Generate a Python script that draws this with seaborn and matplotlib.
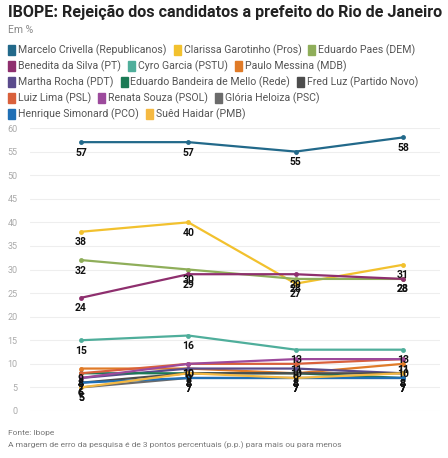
import pandas as pd
import numpy as np
import matplotlib.pyplot as plt
import seaborn as sns

# data (4 survey rounds, no labels on x axis)
rounds = [0, 1, 2, 3]
candidates = [
    'Marcelo Crivella (Republicanos)', 'Clarissa Garotinho (Pros)', 'Eduardo Paes (DEM)',
    'Benedita da Silva (PT)', 'Cyro Garcia (PSTU)', 'Paulo Messina (MDB)',
    'Martha Rocha (PDT)', 'Eduardo Bandeira de Mello (Rede)', 'Fred Luz (Partido Novo)',
    'Luiz Lima (PSL)', 'Renata Souza (PSOL)', 'Glória Heloiza (PSC)',
    'Henrique Simonard (PCO)', 'Suêd Haidar (PMB)',
]
crivella = [57, 57, 55, 58]
clarissa = [38, 40, 27, 31]
paes = [32, 30, 28, 28]
benedita = [24, 29, 29, 28]
cyro = [15, 16, 13, 13]
messina = [9, 9, 8, 10]
martha = [7, 9, 9, 8]
bandeira = [8, 8, 8, 7]
fred = [6, 8, 8, 8]
luiz = [8, 10, 10, 11]
renata = [7, 10, 11, 11]
gloria = [5, 7, 7, 7]
simonard = [6, 7, 7, 7]
sued = [5, 8, 7, 8]
values = [crivella, clarissa, paes, benedita, cyro, messina, martha,
          bandeira, fred, luiz, renata, gloria, simonard, sued]
colors = ['#22698a', '#f2c12e', '#8fae5a', '#8e2f6e', '#4fae9b', '#e07b28', '#5a4b8c',
          '#1b7a55', '#4d4d4d', '#d9603b', '#9c4a9c', '#6b6b6b', '#1f6fb5', '#f5b942']

rows = []
for name, vals in zip(candidates, values):
    for r, v in zip(rounds, vals):
        rows.append({'round': r, 'value': v, 'candidate': name})
df = pd.DataFrame(rows)

sns.set_theme(style='white')
plt.rcParams['font.family'] = ['Roboto', 'DejaVu Sans']

fig = plt.figure(figsize=(4.48, 4.58), dpi=100)
ax = fig.add_axes([30 / 448, 1 - 411 / 458, 410 / 448, 283 / 458])

sns.lineplot(data=df, x='round', y='value', hue='candidate', hue_order=candidates,
             palette=colors, marker='o', markersize=3.5, markeredgewidth=0,
             linewidth=1.6, legend=False, ax=ax)
for line in ax.lines:
    line.set_clip_on(False)

# value labels under each point
for name, vals in zip(candidates, values):
    for r, v in zip(rounds, vals):
        ax.annotate(str(v), (r, v), xytext=(0, -4), textcoords='offset points',
                    ha='center', va='top', fontsize=7.5, fontweight='bold', color='#111111')

ax.set_xlim(-0.475, 3.345)
ax.set_ylim(0, 60)
ax.set_yticks(range(0, 61, 5))
ax.set_xticks([])
ax.set_xlabel('')
ax.set_ylabel('')
ax.tick_params(axis='y', length=0, labelsize=6.5, labelcolor='#aaaaaa', pad=9)
ax.yaxis.grid(True, color='#eeeeee', linewidth=0.8)
for s in ax.spines.values():
    s.set_visible(False)

# titles
fig.text(8 / 448, 1 - 12 / 458, 'IBOPE: Rejeição dos candidatos a prefeito do Rio de Janeiro',
         fontsize=11.6, fontweight='bold', color='#222222', va='center', ha='left')
fig.text(8 / 448, 1 - 30 / 458, 'Em %', fontsize=7.5, color='#888888', va='center', ha='left')

# flow legend, three entries per row
fig.canvas.draw()
renderer = fig.canvas.get_renderer()
leg_rows = [candidates[i:i + 3] for i in range(0, len(candidates), 3)]
k = 0
for ri, row in enumerate(leg_rows):
    ypix = 50 + ri * 16
    xpix = 8
    for name in row:
        fig.patches.append(plt.Rectangle((xpix / 448, 1 - (ypix + 5) / 458), 7 / 448, 10 / 458,
                                         transform=fig.transFigure, color=colors[k], figure=fig))
        t = fig.text((xpix + 10) / 448, 1 - ypix / 458, name, fontsize=7.6, color='#555555',
                     va='center', ha='left')
        w = t.get_window_extent(renderer).width
        xpix += 10 + w + 7
        k += 1

# footer
fig.text(8 / 448, 1 - 433 / 458, 'Fonte: Ibope', fontsize=6, color='#777777', va='center')
fig.text(8 / 448, 1 - 445 / 458,
         'A margem de erro da pesquisa é de 3 pontos percentuais (p.p.) para mais ou para menos',
         fontsize=6, color='#777777', va='center')

fig.savefig('out.png', dpi=100)
